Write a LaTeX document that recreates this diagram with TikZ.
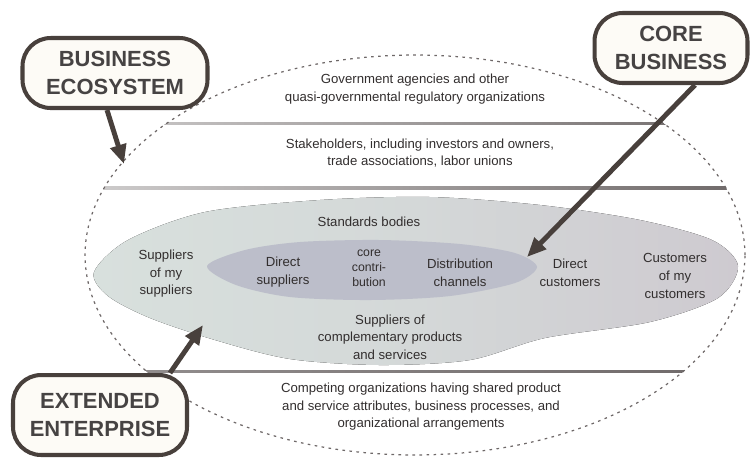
\documentclass[tikz,border=0pt]{standalone}
\usepackage{fontspec}
\setmainfont{Liberation Sans}
\usetikzlibrary{arrows.meta,positioning,shapes.geometric}
\definecolor{ecotext}{RGB}{50,46,46}
\definecolor{ecoline}{RGB}{110,104,104}
\definecolor{ecoframe}{RGB}{72,64,60}
\definecolor{ecofill}{RGB}{253,251,246}
\definecolor{extleft}{RGB}{216,224,221}
\definecolor{extmid}{RGB}{212,216,216}
\definecolor{extright}{RGB}{206,202,208}
\definecolor{corefill}{RGB}{188,190,202}

\begin{document}
\begin{tikzpicture}[x=0.02cm,y=-0.02cm,
    callout/.style={draw=ecoframe,line width=2.3pt,fill=ecofill,rounded corners=16pt,
        align=center,font=\bfseries\fontsize{12.5}{16}\selectfont,text=ecotext!90,inner sep=0pt},
    ringtext/.style={align=center,font=\fontsize{7.5}{10}\selectfont,text=ecotext},
    pointer/.style={-{Triangle[length=11pt,width=9pt]},line width=2.8pt,ecoframe}]
  \useasboundingbox (0,0) rectangle (750,458);

  % Extended enterprise (outer grey blob)
  \fill[left color=extleft,right color=extright,middle color=extmid]
    plot[smooth cycle] coordinates {(94,272) (128,240) (205,212) (320,200) (430,197)
      (540,205) (640,220) (712,240) (738,266) (718,298) (650,322) (545,338)
      (470,360) (380,365) (290,359) (215,340) (150,318) (108,296)};
  % Core business (inner lens)
  \fill[corefill]
    plot[smooth cycle] coordinates {(207,266) (245,250) (300,242) (380,240) (460,244)
      (515,253) (537,267) (515,283) (450,296) (370,300) (290,297) (236,285)};

  % Ring dividers
  \begin{scope}
    \clip (415,255) ellipse [x radius=6.6cm,y radius=4cm];
    \fill[left color=ecoline!25,right color=ecoline] (0,122) rectangle (750,124.5);
    \fill[left color=ecoline!25,right color=ecoline] (0,186.5) rectangle (750,189);
    \fill[left color=ecoline!70,right color=ecoline] (0,370) rectangle (750,372.5);
  \end{scope}

  % Business ecosystem boundary
  \draw[ecoline,line width=0.7pt,dash pattern=on 1.5pt off 2.5pt]
    (415,255) ellipse [x radius=6.6cm,y radius=4cm];

  % Ring labels
  \node[ringtext] (govt) at (415,89)
    {Government agencies and other\\quasi-governmental regulatory organizations};
  \node[ringtext] (stake) at (420,153)
    {Stakeholders, including investors and owners,\\trade associations, labor unions};
  \node[ringtext] (standards) at (369,222) {Standards bodies};
  \node[ringtext] (supsup) at (166,274) {Suppliers\\of my\\suppliers};
  \node[ringtext] (dirsup) at (283,272) {Direct\\suppliers};
  \node[ringtext,font=\fontsize{7}{8.5}\selectfont] (core) at (369,268) {core\\contri-\\bution};
  \node[ringtext] (distrib) at (460,273) {Distribution\\channels};
  \node[ringtext] (dircust) at (570,273) {Direct\\customers};
  \node[ringtext] (custcust) at (675,276) {Customers\\of my\\customers};
  \node[ringtext] (complement) at (390,337)
    {Suppliers of\\complementary products\\and services};
  \node[ringtext] (compet) at (421,407)
    {Competing organizations having shared product\\and service attributes, business processes, and\\organizational arrangements};

  % Callouts
  \node[callout,minimum width=3.7cm,minimum height=1.4cm] (ecosys) at (115,73)
    {BUSINESS\\ECOSYSTEM};
  \node[callout,minimum width=3.06cm,minimum height=1.4cm] (corebiz) at (671,48)
    {CORE\\BUSINESS};
  \node[callout,minimum width=3.48cm,minimum height=1.6cm] (extent) at (100,415)
    {EXTENDED\\ENTERPRISE};

  % Pointer tips
  \coordinate (ecosysTip) at (124,164);
  \coordinate (coreTip) at (527,257);
  \coordinate (extTip) at (203,325);

  \draw[pointer] ([xshift=-0.16cm]ecosys.south) -- (ecosysTip);
  \draw[pointer] ([xshift=0.48cm]corebiz.south) -- (coreTip);
  \draw[pointer] ([xshift=1.4cm]extent.north) -- (extTip);
\end{tikzpicture}
\end{document}
